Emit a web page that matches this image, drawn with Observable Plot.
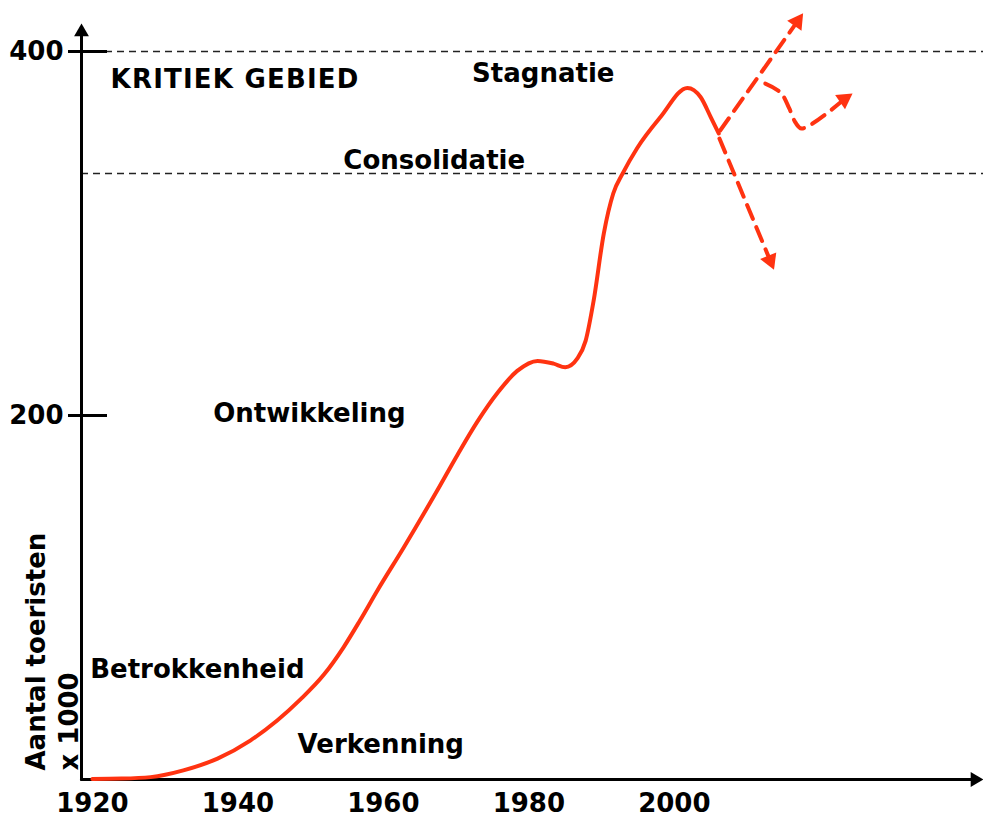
<!DOCTYPE html>
<html>
<head>
<meta charset="utf-8">
<script src="https://cdn.jsdelivr.net/npm/d3@7"></script>
<script src="https://cdn.jsdelivr.net/npm/@observablehq/plot@0.6"></script>
<style>
  html, body { margin: 0; padding: 0; background: #fff; }
</style>
</head>
<body>
<div id="chart"></div>
<script>
// ---- data ----
const years = [1920, 1924, 1928, 1932.5, 1937.2, 1941.7, 1945.4, 1948.6, 1951.8, 1954.5, 1956.8, 1959.2, 1962.8, 1967.4, 1970.2, 1972.9, 1975.7, 1978.4, 1981.2, 1983.4, 1985.0, 1986.7, 1987.8, 1988.9, 1990.3, 1991.6, 1992.9, 1994.9, 1998.1, 2001.8, 2003.6, 2005.0, 2006.1];
const tourists = [0.3, 0.5, 1.3, 5, 11.5, 21.4, 32.4, 44, 57.5, 72.5, 87.5, 104, 127.5, 158.8, 178.5, 196.5, 212.5, 224.5, 230, 228.5, 226.5, 231.5, 241, 263, 300, 322, 333, 347, 364, 380, 375, 364, 355];

// future scenarios (dashed arrows), last point = arrow tip
const riseYears = [2006.3, 2017.7];
const riseValues = [356.6, 421.0];
const fallYears = [2006.2, 2013.7];
const fallValues = [352.2, 280.1];
const dipYears = [2012.5, 2014.6, 2015.8, 2016.65, 2017.5, 2024.5];
const dipValues = [382.4, 377.5, 368.7, 361.0, 357.7, 376.9];

// reference levels
const levelValues = [400, 333];

// tick labels
const xTicks = [1920, 1940, 1960, 1980, 2000];
const yTicks = [200, 400];

// phase labels (left edge year, baseline value)
const labelTexts = ["KRITIEK GEBIED", "Stagnatie", "Consolidatie", "Ontwikkeling", "Betrokkenheid", "Verkenning"];
const labelYears = [1922.5, 1972.2, 1954.5, 1936.6, 1919.7, 1948.2];
const labelValues = [380.2, 383.5, 335.7, 196.2, 55.5, 14.3];

const yTitle = "Aantal toeristen\nx 1000";

// ---- layout ----
const W = 983, H = 818, mL = 81, mR = 0, mT = 23, mB = 39;
const xDomain = [1918.5, 2042.5];
const yDomain = [0, 415.4];
const red = "#ff3311";
const font = "DejaVu Sans, Verdana, sans-serif";

const sx = d3.scaleLinear(xDomain, [mL, W - mR]);
const sy = d3.scaleLinear(yDomain, [H - mB, mT]);

// arrow head (triangle dot) placed so its apex sits on the tip
function head(x0, y0, x1, y1, r) {
  const px0 = sx(x0), py0 = sy(y0), px1 = sx(x1), py1 = sy(y1);
  const dx = px1 - px0, dy = py1 - py0, L = Math.hypot(dx, dy);
  const d = 1.555 * r;
  return {
    x: sx.invert(px1 - dx / L * d),
    y: sy.invert(py1 - dy / L * d),
    rotate: Math.atan2(dx, -dy) * 180 / Math.PI
  };
}

function arrowPath(xs, ys, r) {
  const n = xs.length;
  const h = head(xs[n - 2], ys[n - 2], xs[n - 1], ys[n - 1], r);
  const pts = xs.map((x, i) => ({x, y: ys[i]}));
  pts[n - 1] = {x: h.x, y: h.y};
  return {pts, h};
}

const rise = arrowPath(riseYears, riseValues, 6.5);
const fall = arrowPath(fallYears, fallValues, 6.5);
const dip = arrowPath(dipYears, dipValues, 6.5);

// axes with arrow heads
const yAxisHead = head(xDomain[0], 0, xDomain[0], yDomain[1], 5.5);
const xAxisHead = head(xDomain[0], 0, xDomain[1], 0, 5.5);

const curve = years.map((x, i) => ({x, y: tourists[i]}));
const labels = labelTexts.map((t, i) => ({t, x: labelYears[i], y: labelValues[i]}));

const plot = Plot.plot({
  width: W, height: H,
  marginLeft: mL, marginRight: mR, marginTop: mT, marginBottom: mB,
  x: {domain: xDomain},
  y: {domain: yDomain},
  style: {fontFamily: font, background: "#fff", overflow: "visible"},
  marks: [
    Plot.ruleY(levelValues, {stroke: "#222", strokeWidth: 1.5, strokeDasharray: "7,5"}),
    // axis lines
    Plot.line([{x: xDomain[0], y: 0}, {x: xDomain[0], y: yAxisHead.y}], {x: "x", y: "y", stroke: "black", strokeWidth: 3}),
    Plot.line([{x: xDomain[0], y: 0}, {x: xAxisHead.x, y: 0}], {x: "x", y: "y", stroke: "black", strokeWidth: 3}),
    Plot.dot([yAxisHead, xAxisHead], {x: "x", y: "y", rotate: "rotate", symbol: "triangle", r: 5.5, fill: "black", stroke: null}),
    Plot.axisY(yTicks, {tickSize: 39, dx: 26, tickPadding: 5, strokeWidth: 3, stroke: "black", fontSize: 26, fontWeight: "bold", fill: "black", label: null, tickFormat: d => String(d)}),
    Plot.axisX(xTicks, {tickSize: 0, tickPadding: 14, fontSize: 26, fontWeight: "bold", fill: "black", label: null, tickFormat: d => String(d)}),
    // main curve
    Plot.line(curve, {x: "x", y: "y", stroke: red, strokeWidth: 4, curve: "monotone-x"}),
    // scenarios
    Plot.line(rise.pts, {x: "x", y: "y", stroke: red, strokeWidth: 4, strokeDasharray: "15,9"}),
    Plot.line(fall.pts, {x: "x", y: "y", stroke: red, strokeWidth: 4, strokeDasharray: "15,9"}),
    Plot.line(dip.pts, {x: "x", y: "y", stroke: red, strokeWidth: 4, strokeDasharray: "15,9", curve: "catmull-rom"}),
    Plot.dot([rise.h, fall.h, dip.h], {x: "x", y: "y", rotate: "rotate", symbol: "triangle", r: 6.5, fill: red, stroke: null}),
    // labels
    Plot.text(labels, {x: "x", y: "y", text: "t", textAnchor: "start", lineAnchor: "bottom", fontSize: 26, fontWeight: "bold", fill: "black"}),
    Plot.text([yTitle], {text: d => d, frameAnchor: "bottom-left", rotate: -90, textAnchor: "start", lineAnchor: "top", lineHeight: 1.3, dx: -61, dy: -9, fontSize: 26, fontWeight: "bold", fill: "black"})
  ]
});

document.getElementById("chart").appendChild(plot);
d3.select(plot).selectAll("text").filter(function() { return this.textContent === "KRITIEK GEBIED"; }).style("letter-spacing", "1.2px");
</script>
</body>
</html>
